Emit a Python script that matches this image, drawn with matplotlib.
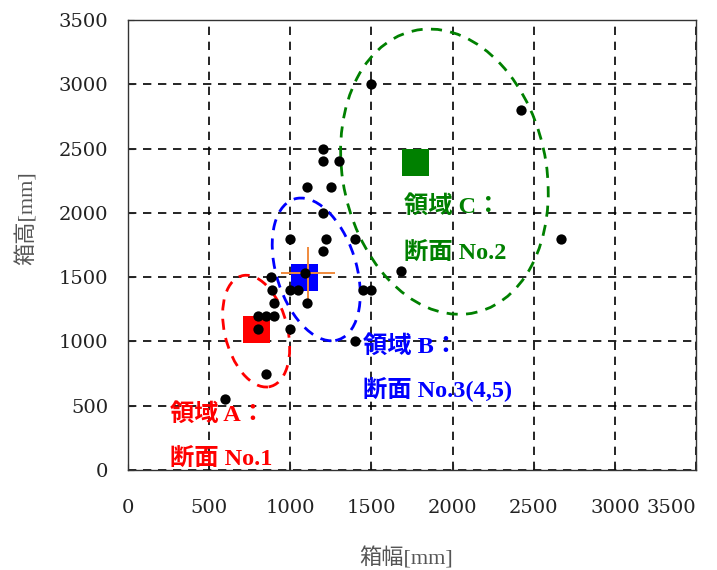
import matplotlib.pyplot as plt
from matplotlib.patches import Ellipse

plt.rcParams['font.family'] = ['Liberation Serif', 'Noto Sans CJK JP', 'DejaVu Sans']

# scatter points (box width, box height) [mm]
dot_x = [600, 850, 800, 1000, 800, 850, 900, 900, 1100, 890, 1000, 1050, 1450, 1500,
         880, 1090, 1200, 1000, 1220, 1400, 1200, 1100, 1250, 1200, 1300, 1200,
         1500, 2420, 2670, 1680, 1400]
dot_y = [550, 750, 1100, 1100, 1200, 1200, 1200, 1300, 1300, 1400, 1400, 1400, 1400, 1400,
         1500, 1530, 1700, 1800, 1800, 1800, 2000, 2200, 2200, 2400, 2400, 2500,
         3000, 2800, 1800, 1550, 1000]

# region representative points
region_x = [790, 1085, 1770]
region_y = [1090, 1500, 2395]
region_colors = ['#ff0000', '#0000ff', '#008000']
region_line1 = ['領域 A：', '領域 B：', '領域 C：']
region_line2 = ['断面 No.1', '断面 No.3(4,5)', '断面 No.2']
text_x = [259, 1450, 1700]
text_y1 = [430, 960, 2050]
text_y2 = [85, 630, 1688]

# region ellipses: center x, center y, width, height, angle
ell_cx = [790, 1160, 1950]
ell_cy = [1080, 1560, 2320]
ell_w = [390, 500, 1260]
ell_h = [880, 1130, 2230]
ell_ang = [10, 12, 7]

# mean +- std cross
mean_x, mean_y = 1110, 1530
std_x, std_y = 165, 205

fig = plt.figure(figsize=(7.17, 5.70), dpi=100)
ax = fig.add_axes([0.1785, 0.1754, 0.7922, 0.7896])

for i in range(3):
    e = Ellipse((ell_cx[i], ell_cy[i]), ell_w[i], ell_h[i], angle=ell_ang[i],
                fill=False, edgecolor=region_colors[i], lw=2.0, linestyle=(0, (4, 3)), zorder=3)
    ax.add_patch(e)

ax.scatter(region_x, region_y, marker='s', s=380, c=region_colors, zorder=4, linewidths=0)
ax.errorbar(mean_x, mean_y, xerr=std_x, yerr=std_y, fmt='none', ecolor='#f08a3c',
            elinewidth=1.4, capsize=0, zorder=5)
ax.scatter(dot_x, dot_y, s=55, c='black', zorder=6, linewidths=0)

for i in range(3):
    ax.text(text_x[i], text_y1[i], region_line1[i], color=region_colors[i], fontsize=17.5,
            fontweight='bold', ha='left', va='center', zorder=7)
    ax.text(text_x[i], text_y2[i], region_line2[i], color=region_colors[i], fontsize=17.5,
            fontweight='bold', ha='left', va='center', zorder=7)

ax.set_xlim(0, 3500)
ax.set_ylim(0, 3500)
ax.set_xticks(range(0, 3501, 500))
ax.set_yticks(range(0, 3501, 500))
ax.grid(True, color='black', linestyle=(0, (5, 4)), lw=1.2)
ax.set_axisbelow(True)
ax.tick_params(direction='in', length=4, labelsize=14, colors='#222222')
ax.tick_params(axis='x', pad=21)
ax.tick_params(axis='y', pad=14)
for lab in ax.get_xticklabels() + ax.get_yticklabels():
    lab.set_family('DejaVu Serif')
# last x label is pushed left so it stays inside the picture
ax.get_xticklabels()[-1].set_horizontalalignment('right')
for s in ax.spines.values():
    s.set_linewidth(1.0)
    s.set_color('#333333')

ax.set_xlabel('箱幅[mm]', fontsize=16, color='#555555', va='center')
ax.set_ylabel('箱高[mm]', fontsize=16, color='#555555', va='center')
ax.xaxis.set_label_coords(0.49, -0.196)
ax.yaxis.set_label_coords(-0.178, 0.56)

fig.savefig('out.png', dpi=100)
